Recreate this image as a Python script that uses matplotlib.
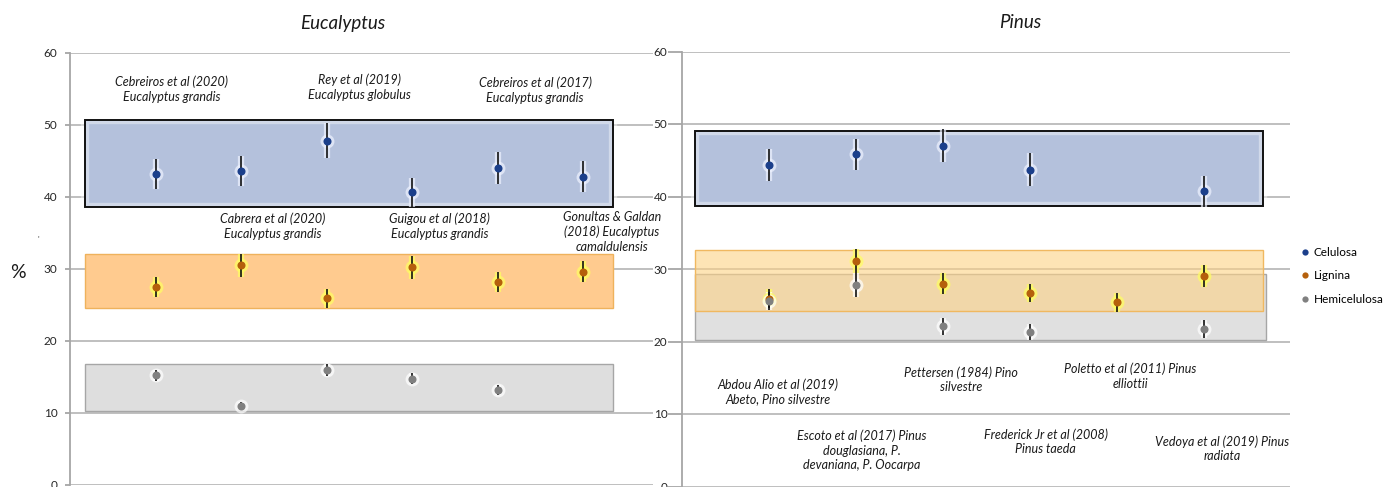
import numpy as np
import matplotlib
matplotlib.use("Agg")
import matplotlib.pyplot as plt
from matplotlib.patches import Rectangle
from matplotlib.lines import Line2D

plt.rcParams['font.family'] = ['Lato', 'DejaVu Sans']

# ---- data -------------------------------------------------------------
categories = [1, 2, 3, 4, 5, 6]
series_names = ["Celulosa", "Lignina", "Hemicelulosa"]

euc_cel = [43.1, 43.6, 47.8, 40.6, 44.0, 42.8]
euc_cel_err = [2.1, 2.1, 2.45, 2.0, 2.2, 2.1]
euc_lig = [27.5, 30.5, 25.9, 30.2, 28.1, 29.6]
euc_lig_err = [1.4, 1.6, 1.3, 1.6, 1.4, 1.45]
euc_hem = [15.2, 11.0, 15.9, 14.7, 13.2, np.nan]
euc_hem_err = [0.75, 0.5, 0.8, 0.75, 0.7, np.nan]

pin_cel = [44.3, 45.8, 47.0, 43.7, np.nan, 40.7]
pin_cel_err = [2.2, 2.2, 2.3, 2.25, np.nan, 2.1]
pin_lig = [25.9, 31.1, 28.0, 26.7, 25.4, 29.0]
pin_lig_err = [1.3, 1.7, 1.4, 1.3, 1.3, 1.5]
pin_hem = [25.6, 27.8, 22.1, 21.3, np.nan, 21.7]
pin_hem_err = [1.2, 1.6, 1.2, 1.05, np.nan, 1.2]

# ranges (low, high) shaded for each component
euc_cel_range = (38.6, 50.65)
euc_lig_range = (24.6, 32.1)
euc_hem_range = (10.3, 16.7)
pin_cel_range = (38.7, 49.1)
pin_lig_range = (24.2, 32.6)
pin_hem_range = (20.2, 29.35)

euc_refs = ["Cebreiros et al (2020)\nEucalyptus grandis",
            "Cabrera et al (2020)\nEucalyptus grandis",
            "Rey et al (2019)\nEucalyptus globulus",
            "Guigou et al (2018)\nEucalyptus grandis",
            "Cebreiros et al (2017)\nEucalyptus grandis",
            "Gonultas & Galdan\n(2018) Eucalyptus\ncamaldulensis"]
pin_refs = ["Abdou Alio et al (2019)\nAbeto, Pino silvestre",
            "Escoto et al (2017) Pinus\ndouglasiana, P.\ndevaniana, P. Oocarpa",
            "Pettersen (1984) Pino\nsilvestre",
            "Frederick Jr et al (2008)\nPinus taeda",
            "Poletto et al (2011) Pinus\nelliottii",
            "Vedoya et al (2019) Pinus\nradiata"]
yticks = [0, 10, 20, 30, 40, 50, 60]

# ---- layout / styles ----------------------------------------------------
euc_ref_pos = [(1.19, 54.9), (2.37, 35.9), (3.39, 55.2), (4.32, 35.9), (5.44, 54.8), (6.34, 35.1)]
pin_ref_pos = [(1.10, 13.1), (2.07, 5.0), (3.21, 14.7), (4.18, 6.2), (5.15, 15.2), (6.21, 5.2)]

col_cel, col_lig, col_hem = "#1B3F8B", "#B5600C", "#808080"
glow_cel, glow_lig, glow_hem = "#EEF2FF", "#FFFF60", "#FFFFFF"
grid_col = "#BFBFBF"
axis_col = "#A6A6A6"

W, H = 1398, 487
fig = plt.figure(figsize=(W / 100, H / 100), dpi=100)

ax1 = fig.add_axes([70 / W, 1 - 484.7 / H, (653 - 70) / W, (484.7 - 52.7) / H])
ax2 = fig.add_axes([682 / W, 1 - 486.5 / H, (1290 - 682) / W, (486.5 - 51.5) / H])
ax1.set_xlim(0, 583 / 85.5)
ax2.set_xlim(0, 608 / 87)


def style_axis(ax, ticklen, pad):
    ax.set_ylim(0, 60)
    ax.set_yticks(yticks)
    ax.set_xticks([])
    for s in ("top", "right", "bottom"):
        ax.spines[s].set_visible(False)
    ax.spines["left"].set_color(axis_col)
    ax.spines["left"].set_linewidth(1.3)
    ax.yaxis.grid(True, color=grid_col, linewidth=1.4)
    ax.set_axisbelow(True)
    ax.tick_params(axis="y", length=ticklen, width=1.3, color=axis_col,
                   labelsize=8.5, labelcolor="#262626", pad=pad)
    ax.patch.set_alpha(0)


style_axis(ax1, 3.6, 5.5)
style_axis(ax2, 10, 0.5)


def band(ax, x0, x1, rng, face, edge, lw, alpha=1.0, glow=False, z=1):
    lo, hi = rng
    ax.add_patch(Rectangle((x0, lo), x1 - x0, hi - lo, facecolor=face,
                           edgecolor="none", alpha=alpha, zorder=z))
    if glow:
        ax.add_patch(Rectangle((x0, lo), x1 - x0, hi - lo, facecolor="none",
                               edgecolor="white", linewidth=6, alpha=0.4,
                               zorder=z + 0.1))
    ax.add_patch(Rectangle((x0, lo), x1 - x0, hi - lo, facecolor="none",
                           edgecolor=edge, linewidth=lw, zorder=z + 0.2))


# Eucalyptus bands
band(ax1, 0.18, 6.35, euc_cel_range, "#B4C1DC", "#111111", 1.4, glow=True)
band(ax1, 0.18, 6.35, euc_lig_range, "#FFCB8F", "#EFB25C", 1.0)
band(ax1, 0.18, 6.35, euc_hem_range, "#DEDEDE", "#A6A6A6", 1.0)

# Pinus bands (hemicellulose under a translucent lignin band)
band(ax2, 0.15, 6.68, pin_cel_range, "#B4C1DC", "#111111", 1.4, glow=True)
band(ax2, 0.15, 6.71, pin_hem_range, "#E0E0E0", "#A6A6A6", 1.0)
band(ax2, 0.15, 6.68, pin_lig_range, "#FDD285", "#F0B860", 1.0, alpha=0.6, z=1.5)


def points(ax, vals, errs, color, glow):
    # soft halo underneath
    ax.errorbar(categories, vals, yerr=errs, fmt="o", color=glow,
                markersize=10, markeredgewidth=0, ecolor=glow,
                elinewidth=4.5, capsize=4, capthick=4, alpha=0.7, zorder=4)
    ax.errorbar(categories, vals, yerr=errs, fmt="o", color=color,
                markersize=5.8, markeredgewidth=0, ecolor="#111111",
                elinewidth=1.2, capsize=3, capthick=1.2, zorder=5)


points(ax1, euc_cel, euc_cel_err, col_cel, glow_cel)
points(ax1, euc_lig, euc_lig_err, col_lig, glow_lig)
points(ax1, euc_hem, euc_hem_err, col_hem, glow_hem)
points(ax2, pin_cel, pin_cel_err, col_cel, glow_cel)
points(ax2, pin_lig, pin_lig_err, col_lig, glow_lig)
points(ax2, pin_hem, pin_hem_err, col_hem, glow_hem)

for txt, (x, y) in zip(euc_refs, euc_ref_pos):
    ax1.text(x, y, txt, ha="center", va="center", fontsize=9, style="italic",
             color="#1A1A1A", linespacing=1.25, zorder=6)
for txt, (x, y) in zip(pin_refs, pin_ref_pos):
    ax2.text(x, y, txt, ha="center", va="center", fontsize=9, style="italic",
             color="#1A1A1A", linespacing=1.25, zorder=6)

fig.text(343 / W, 1 - 23 / H, "Eucalyptus", ha="center", va="center",
         fontsize=13.5, style="italic", color="#1A1A1A")
fig.text(1020 / W, 1 - 23 / H, "Pinus", ha="center", va="center",
         fontsize=13.5, style="italic", color="#1A1A1A")
fig.text(18 / W, 1 - 272 / H, "%", ha="center", va="center", fontsize=14,
         color="#1A1A1A")
fig.text(38 / W, 1 - 240 / H, "'", ha="center", va="center", fontsize=6,
         color="#404040")

handles = [Line2D([], [], linestyle="none", marker="o", markersize=4.5,
                  color=c, markeredgewidth=0)
           for c in (col_cel, col_lig, col_hem)]
fig.legend(handles, series_names, loc="upper left",
           bbox_to_anchor=(1301 / W, 1 - 247 / H), frameon=False,
           fontsize=8.5, handlelength=0.7, handletextpad=0.35,
           labelspacing=1.05, borderpad=0, borderaxespad=0)

fig.savefig("out.png", dpi=100)
